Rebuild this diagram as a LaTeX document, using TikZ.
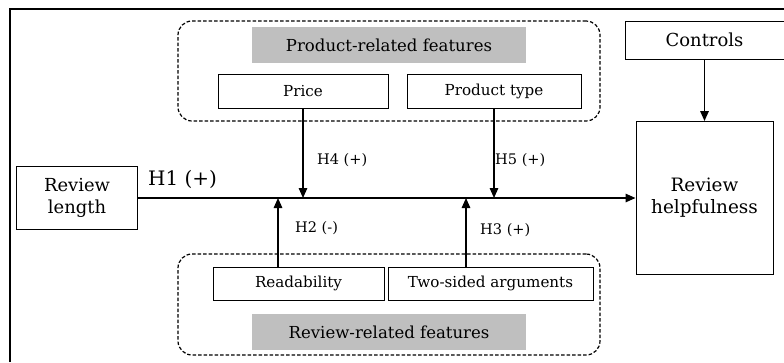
\documentclass[tikz,border=0pt]{standalone}
\usepackage{fontspec}
\setmainfont{DejaVu Serif}
\usetikzlibrary{arrows.meta}
\tikzset{
  box/.style={draw, line width=1bp, inner sep=0pt, align=center},
  grp/.style={draw, dashed, dash pattern=on 3.5bp off 2bp, line width=1.2bp, rounded corners=14bp, inner sep=0pt},
  hdr/.style={fill=gray!50, inner sep=0pt, font=\fontsize{16.6}{19}\selectfont},
  item/.style={box, font=\fontsize{15.2}{17}\selectfont},
  arr/.style={line width=1.5bp, -{Triangle[length=10bp,width=8.5bp]}},
  lbl/.style={anchor=west, inner sep=0pt, font=\fontsize{14.6}{16}\selectfont}
}
\begin{document}
\begin{tikzpicture}[x=1bp,y=-1bp]
\useasboundingbox (0,0) rectangle (784,362);
\draw[line width=2.2bp] (10,362) -- (10,9) -- (784,9);
% groups
\node[grp, minimum width=422bp, minimum height=100bp] (prodgrp) at (389,71) {};
\node[grp, minimum width=422bp, minimum height=101bp] (revgrp) at (389,304.5) {};
\node[hdr, minimum width=274bp, minimum height=36bp] (prodhdr) at (389,45) {Product-related features};
\node[hdr, minimum width=274bp, minimum height=36bp] (revhdr) at (389,332) {Review-related features};
\node[item, minimum width=170bp, minimum height=34bp] (price) at (303,91) {Price};
\node[item, minimum width=174bp, minimum height=34bp] (ptype) at (494,91) {Product type};
\node[item, minimum width=171bp, minimum height=33bp] (read) at (298.5,283.5) {Readability};
\node[item, minimum width=205bp, minimum height=33bp] (twos) at (490.5,283.5) {Two-sided arguments};
% main boxes
\node[box, minimum width=120bp, minimum height=63bp, font=\fontsize{18}{21.5}\selectfont] (len) at (77,198) {Review\\length};
\node[box, minimum width=137bp, minimum height=153bp, font=\fontsize{18.5}{22}\selectfont] (help) at (704.5,198) {Review\\helpfulness};
\node[box, minimum width=159bp, minimum height=38bp, font=\fontsize{18}{20}\selectfont] (controls) at (704.5,40) {Controls};
% connectors
\draw[arr] (len.east) -- (help.west);
\draw[arr] (controls.south) -- (help.north);
\draw[arr] (price.south) -- (price.south |- len.east);
\draw[arr] (ptype.south) -- (ptype.south |- len.east);
\coordinate (readtop) at ([xshift=-20.5bp]read.north);
\coordinate (twostop) at ([xshift=-24.5bp]twos.north);
\draw[arr] (readtop) -- (readtop |- len.east);
\draw[arr] (twostop) -- (twostop |- len.east);
% labels
\node[lbl, font=\fontsize{20}{22}\selectfont] (h1) at (148,179) {H1 (+)};
\node[lbl] (h4) at (317,160) {H4 (+)};
\node[lbl] (h5) at (495,160) {H5 (+)};
\node[lbl] (h2) at (295,228) {H2 (-)};
\node[lbl] (h3) at (480,230) {H3 (+)};
\end{tikzpicture}
\end{document}
